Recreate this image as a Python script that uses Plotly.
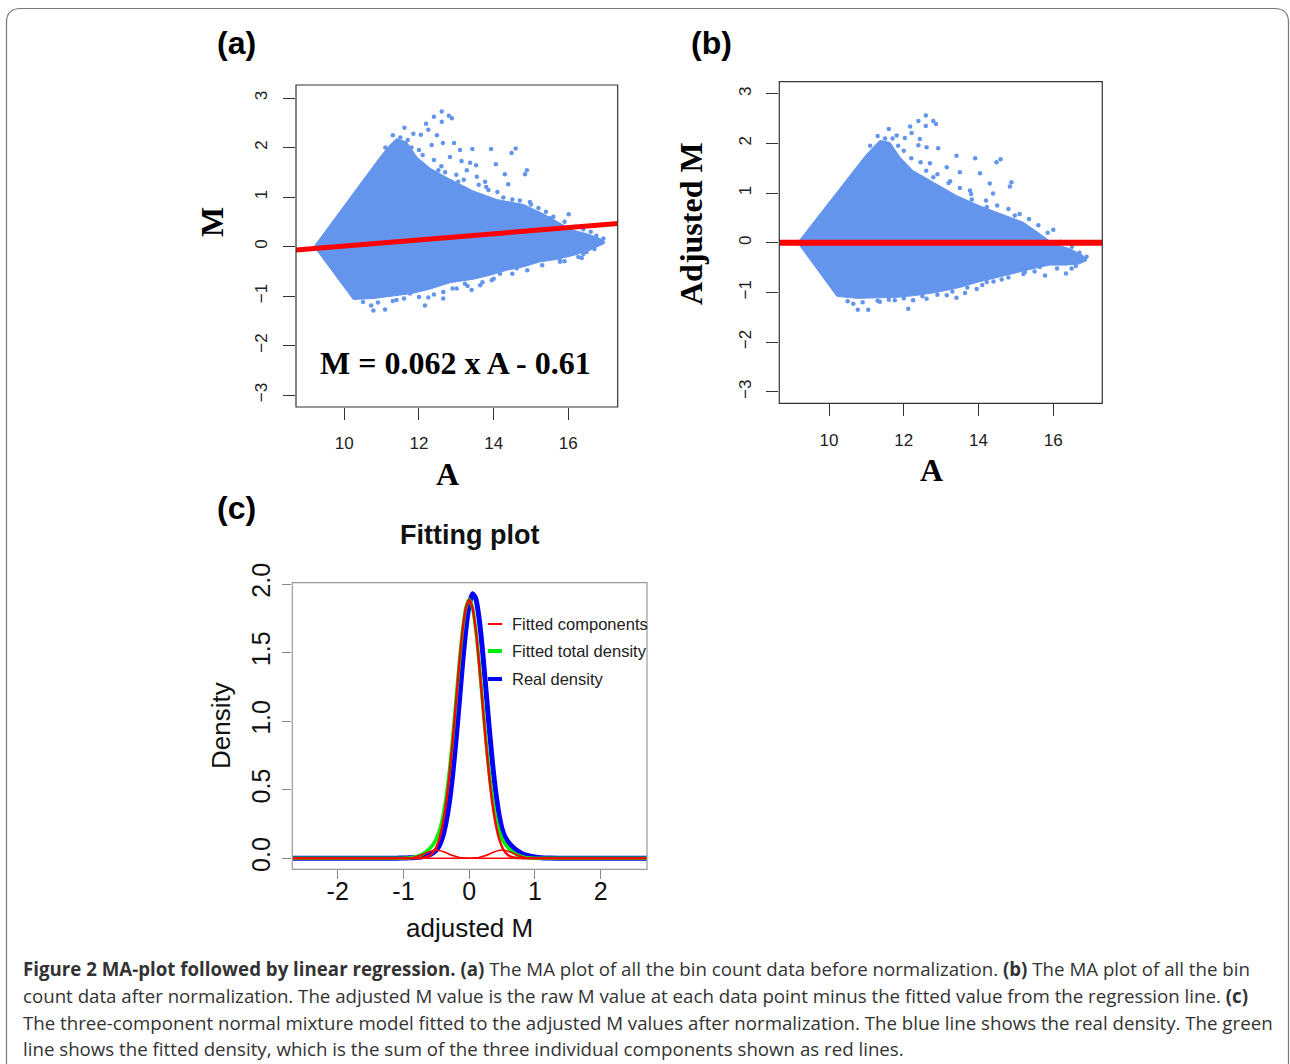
import plotly.graph_objects as go

W, H = 1290, 1064

# ---------------- Panel (a): MA plot before normalization ----------------
cloud_a_x = [9.19, 10.95, 11.22, 11.40, 11.67, 11.94, 12.30, 12.83, 13.46, 14.08, 14.80, 15.33,
             15.78, 16.13, 16.49, 16.85, 16.98, 16.96, 16.58, 16.13, 15.69, 15.24, 14.80, 14.35,
             13.90, 13.46, 12.83, 12.30, 11.80, 11.22, 10.78, 10.24, 9.19]
cloud_a_y = [0.00, 1.80, 2.05, 2.18, 2.11, 1.81, 1.58, 1.36, 1.12, 0.95, 0.85, 0.66,
             0.47, 0.33, 0.26, 0.16, 0.09, 0.06, -0.075, -0.18, -0.26, -0.31, -0.41, -0.48,
             -0.58, -0.66, -0.73, -0.86, -0.95, -1.01, -1.05, -1.07, 0.00]
out_a_x = [12.61, 12.80, 12.88, 12.61, 12.40, 12.19, 11.61, 11.85, 12.05, 12.25, 12.48, 12.64,
           12.94, 13.43, 13.93, 14.48, 14.59, 13.10, 12.83, 13.14, 13.37, 13.53, 14.06, 14.89,
           14.84, 14.30, 13.77, 14.39, 13.86, 14.26, 14.97, 14.57, 16.01, 15.51, 13.28, 13.55,
           13.05, 12.52, 12.34,
           11.10, 11.30, 11.50, 11.70, 11.80, 12.00, 12.10, 12.40, 12.60, 12.70, 13.00, 13.20,
           13.60, 13.80, 14.10, 14.50, 14.70, 15.00, 15.20, 15.40, 15.60, 15.90, 16.20, 16.40,
           16.60, 16.75,
           10.78, 11.09, 10.72, 12.16, 11.40, 12.25, 12.65, 13.01, 13.41, 13.64, 13.95, 14.17,
           14.62, 15.24, 15.78, 16.36, 16.49, 16.67, 16.94, 16.90, 16.58, 16.13, 15.60, 13.23,
           11.76, 11.89, 12.65, 16.27, 15.78,
           10.50, 10.90, 11.30, 11.60, 12.00, 12.40, 12.90, 13.30, 13.70, 14.00, 14.50, 14.90,
           15.30, 15.90, 16.40, 16.70]
out_a_y = [2.73, 2.64, 2.59, 2.52, 2.62, 2.48, 2.40, 2.28, 2.26, 2.36, 2.25, 2.09,
           2.09, 1.97, 1.97, 1.89, 1.98, 1.95, 1.81, 1.73, 1.69, 1.64, 1.66, 1.54,
           1.46, 1.46, 1.31, 1.26, 1.14, 0.99, 0.90, 0.81, 0.65, 0.57, 1.54, 1.41,
           1.31, 1.54, 2.05,
           2.00, 2.25, 2.20, 2.15, 2.00, 1.95, 1.85, 1.75, 1.62, 1.50, 1.45, 1.35,
           1.25, 1.20, 1.10, 0.95, 0.93, 0.85, 0.78, 0.70, 0.60, 0.50, 0.40, 0.35,
           0.30, 0.22,
           -1.29, -1.27, -1.19, -1.19, -1.08, -1.03, -0.92, -0.85, -0.88, -0.78, -0.68, -0.55,
           -0.44, -0.24, -0.31, -0.23, -0.11, -0.01, 0.16, 0.09, 0.13, 0.13, -0.14, -0.75,
           -0.95, -0.88, -1.05, -0.21, -0.29,
           -1.12, -1.13, -1.10, -1.05, -1.02, -0.97, -0.85, -0.80, -0.72, -0.65, -0.55, -0.48,
           -0.38, -0.30, -0.15, -0.05]
fit_slope = 0.062
fit_intercept = -0.61
fit_a_x = [8.4, 17.6]
fit_a_y = [fit_slope * v + fit_intercept for v in fit_a_x]

# ---------------- Panel (b): MA plot after normalization ----------------
cloud_b_x = [9.16, 10.96, 11.18, 11.36, 11.63, 11.90, 12.25, 12.79, 13.41, 14.04, 14.66, 15.20,
             15.64, 16.00, 16.44, 16.80, 16.89, 16.71, 16.36, 15.91, 15.64, 15.02, 14.57, 13.95,
             13.50, 12.88, 12.34, 11.81, 11.28, 10.74, 10.21, 9.16]
cloud_b_y = [0.00, 1.74, 1.92, 2.06, 2.02, 1.72, 1.45, 1.22, 0.95, 0.74, 0.56, 0.41,
             0.18, -0.02, -0.12, -0.26, -0.36, -0.42, -0.45, -0.45, -0.49, -0.60, -0.68, -0.80,
             -0.90, -1.00, -1.06, -1.10, -1.11, -1.12, -1.08, 0.00]
out_b_x = [12.59, 12.79, 12.86, 12.59, 12.39, 12.17, 11.60, 12.21, 11.81, 12.03, 12.43, 12.61,
           12.92, 13.41, 13.91, 14.48, 14.59, 13.50, 13.15, 14.04, 14.88, 14.84, 14.30, 13.77,
           14.39, 13.82, 14.22, 14.97, 16.00, 15.46, 13.24, 12.79, 12.70, 12.39,
           11.10, 11.30, 11.50, 11.70, 11.85, 12.00, 12.20, 12.45, 12.60, 12.90, 13.20, 13.50,
           13.80, 14.20, 14.50, 14.80, 15.10, 15.35, 15.60, 15.85, 16.20, 16.50, 16.70,
           10.77, 11.05, 10.65, 12.12, 11.36, 12.25, 12.61, 13.15, 13.41, 13.64, 13.95, 14.22,
           14.62, 15.24, 15.78, 16.34, 16.49, 16.62, 16.89, 16.84, 16.58, 16.13, 15.64, 11.76,
           10.50, 10.90, 11.30, 11.60, 12.00, 12.50, 12.90, 13.30, 13.70, 14.10, 14.40, 14.80,
           15.20, 15.50, 16.10, 16.60]
out_b_y = [2.56, 2.45, 2.39, 2.35, 2.45, 2.34, 2.29, 2.21, 2.16, 2.11, 2.09, 1.92,
           1.90, 1.75, 1.70, 1.62, 1.68, 1.42, 1.52, 1.40, 1.22, 1.13, 1.19, 1.05,
           0.99, 0.87, 0.72, 0.55, 0.26, 0.21, 1.24, 1.32, 1.60, 1.96,
           1.95, 2.15, 2.10, 2.10, 1.95, 1.85, 1.70, 1.62, 1.45, 1.38, 1.20, 1.10,
           0.98, 0.85, 0.75, 0.68, 0.58, 0.48, 0.35, 0.20, 0.02, -0.08, -0.20,
           -1.35, -1.35, -1.23, -1.33, -1.19, -1.16, -1.13, -1.06, -1.11, -1.01, -0.93, -0.79,
           -0.74, -0.59, -0.66, -0.62, -0.52, -0.42, -0.28, -0.34, -0.26, -0.22, -0.49, -1.16,
           -1.18, -1.20, -1.17, -1.15, -1.12, -1.08, -1.05, -0.98, -0.90, -0.85, -0.78, -0.70,
           -0.63, -0.58, -0.52, -0.47]
adj_line_x = [8.4, 17.6]
adj_line_y = [0.0, 0.0]

# ---------------- Panel (c): fitting plot ----------------
dens_x = [-2.8, -2.0, -1.5, -1.2, -1.1, -1.0, -0.95, -0.9, -0.85, -0.8, -0.75, -0.7, -0.65,
          -0.6, -0.55, -0.5, -0.45, -0.4, -0.35, -0.3, -0.25, -0.2, -0.15, -0.1, -0.05, 0.0,
          0.05, 0.1, 0.15, 0.2, 0.25, 0.3, 0.35, 0.4, 0.45, 0.5, 0.55, 0.6, 0.65, 0.7, 0.75,
          0.8, 0.85, 0.9, 0.95, 1.0, 1.1, 1.2, 1.5, 2.0, 2.8]
real_density = [0.0, 0.0, 0.0, 0.0, 0.001, 0.002, 0.003, 0.004, 0.005, 0.007, 0.009, 0.013, 0.018,
                0.027, 0.040, 0.060, 0.097, 0.162, 0.266, 0.413, 0.615, 0.864, 1.142, 1.423, 1.671, 1.849,
                1.929, 1.893, 1.753, 1.528, 1.256, 0.975, 0.715, 0.497, 0.330, 0.215, 0.150, 0.115, 0.088,
                0.066, 0.049, 0.036, 0.026, 0.019, 0.013, 0.009, 0.004, 0.002, 0.0, 0.0, 0.0]
fitted_total = [0.0, 0.0, 0.0, 0.0, 0.0, 0.001, 0.002, 0.004, 0.007, 0.014, 0.022, 0.034, 0.051,
                0.071, 0.100, 0.143, 0.207, 0.305, 0.449, 0.642, 0.883, 1.156, 1.430, 1.668, 1.829, 1.887,
                1.829, 1.668, 1.430, 1.156, 0.883, 0.642, 0.449, 0.305, 0.207, 0.143, 0.100, 0.071, 0.051,
                0.034, 0.022, 0.014, 0.007, 0.004, 0.002, 0.001, 0.0, 0.0, 0.0, 0.0, 0.0]
comp_main = [0.0, 0.0, 0.0, 0.0, 0.0, 0.0, 0.0, 0.0, 0.0, 0.001, 0.002, 0.004, 0.010,
             0.021, 0.043, 0.083, 0.150, 0.255, 0.408, 0.612, 0.863, 1.143, 1.423, 1.664, 1.827, 1.885,
             1.827, 1.664, 1.423, 1.143, 0.863, 0.612, 0.408, 0.255, 0.150, 0.083, 0.043, 0.021, 0.010,
             0.004, 0.002, 0.001, 0.0, 0.0, 0.0, 0.0, 0.0, 0.0, 0.0, 0.0, 0.0]
comp_left = [0.0, 0.0, 0.0, 0.0, 0.0, 0.001, 0.002, 0.004, 0.007, 0.013, 0.020, 0.030, 0.041,
             0.050, 0.057, 0.060, 0.057, 0.050, 0.041, 0.030, 0.020, 0.013, 0.007, 0.004, 0.002, 0.001,
             0.0, 0.0, 0.0, 0.0, 0.0, 0.0, 0.0, 0.0, 0.0, 0.0, 0.0, 0.0, 0.0,
             0.0, 0.0, 0.0, 0.0, 0.0, 0.0, 0.0, 0.0, 0.0, 0.0, 0.0, 0.0]
comp_right = [0.0, 0.0, 0.0, 0.0, 0.0, 0.0, 0.0, 0.0, 0.0, 0.0, 0.0, 0.0, 0.0,
              0.0, 0.0, 0.0, 0.0, 0.0, 0.0, 0.0, 0.0, 0.0, 0.0, 0.0, 0.0, 0.001,
              0.002, 0.004, 0.007, 0.013, 0.020, 0.030, 0.041, 0.050, 0.057, 0.060, 0.057, 0.050, 0.041,
              0.030, 0.020, 0.013, 0.007, 0.004, 0.002, 0.001, 0.0, 0.0, 0.0, 0.0, 0.0]

a_ticks = [10, 12, 14, 16]
m_ticks = [-3, -2, -1, 0, 1, 2, 3]
m_tick_text = ["\u22123", "\u22122", "\u22121", "0", "1", "2", "3"]
c_xticks = [-2, -1, 0, 1, 2]
c_xtext = ["-2", "-1", "0", "1", "2"]
c_yticks = [0.0, 0.5, 1.0, 1.5, 2.0]
c_ytext = ["0.0", "0.5", "1.0", "1.5", "2.0"]

legend_labels = ["Fitted components", "Fitted total density", "Real density"]

caption_lines = [
    "<b>Figure 2 MA-plot followed by linear regression.</b> <b>(a)</b> The MA plot of all the bin count data before normalization. <b>(b)</b> The MA plot of all the bin",
    "count data after normalization. The adjusted M value is the raw M value at each data point minus the fitted value from the regression line. <b>(c)</b>",
    "The three-component normal mixture model fitted to the adjusted M values after normalization. The blue line shows the real density. The green",
    "line shows the fitted density, which is the sum of the three individual components shown as red lines.",
]

# ---------------- styles ----------------
CLOUD = "#6495ED"
SERIF = "Liberation Serif"
SANS = "Liberation Sans"


def px(x):
    return x / W


def py(y):
    return 1 - y / H


fig = go.Figure()

# Panel (a)
fig.add_trace(go.Scatter(x=cloud_a_x, y=cloud_a_y, mode="lines", fill="toself",
                         fillcolor=CLOUD, line=dict(color=CLOUD, width=1),
                         xaxis="x", yaxis="y", hoverinfo="skip", showlegend=False))
fig.add_trace(go.Scatter(x=out_a_x, y=out_a_y, mode="markers",
                         marker=dict(color=CLOUD, size=4.5, line=dict(width=0)),
                         xaxis="x", yaxis="y", showlegend=False))
fig.add_trace(go.Scatter(x=fit_a_x, y=fit_a_y, mode="lines",
                         line=dict(color="#FF0000", width=5),
                         xaxis="x", yaxis="y", showlegend=False))

# Panel (b)
fig.add_trace(go.Scatter(x=cloud_b_x, y=cloud_b_y, mode="lines", fill="toself",
                         fillcolor=CLOUD, line=dict(color=CLOUD, width=1),
                         xaxis="x2", yaxis="y2", hoverinfo="skip", showlegend=False))
fig.add_trace(go.Scatter(x=out_b_x, y=out_b_y, mode="markers",
                         marker=dict(color=CLOUD, size=4.5, line=dict(width=0)),
                         xaxis="x2", yaxis="y2", showlegend=False))
fig.add_trace(go.Scatter(x=adj_line_x, y=adj_line_y, mode="lines",
                         line=dict(color="#FF0000", width=6),
                         xaxis="x2", yaxis="y2", showlegend=False))

# Panel (c)
fig.add_trace(go.Scatter(x=dens_x, y=real_density, mode="lines", name="Real density",
                         line=dict(color="#0000FF", width=5, shape="spline", smoothing=0.6),
                         xaxis="x3", yaxis="y3", showlegend=False))
fig.add_trace(go.Scatter(x=dens_x, y=fitted_total, mode="lines", name="Fitted total density",
                         line=dict(color="#00EE00", width=3.5, shape="spline", smoothing=0.6),
                         xaxis="x3", yaxis="y3", showlegend=False))
for comp, wdt in ((comp_main, 2.4), (comp_left, 1.5), (comp_right, 1.5)):
    fig.add_trace(go.Scatter(x=dens_x, y=comp, mode="lines", name="Fitted components",
                             line=dict(color="#FF0000", width=wdt, shape="spline", smoothing=0.6),
                             xaxis="x3", yaxis="y3", showlegend=False))

ab_tick = dict(ticks="outside", ticklen=12, tickwidth=1, tickcolor="#333",
               showgrid=False, zeroline=False, showline=False, automargin=False,
               tickfont=dict(family=SANS, size=17, color="#222"), ticklabelstandoff=9)
c_tick = dict(ticks="outside", ticklen=9, tickwidth=1, tickcolor="#888",
              showgrid=False, zeroline=False, showline=False, automargin=False,
              tickfont=dict(family=SANS, size=25, color="#111"))

fig.update_layout(
    width=W, height=H, autosize=False,
    margin=dict(l=0, r=0, t=0, b=0, pad=0, autoexpand=False),
    paper_bgcolor="white", plot_bgcolor="white", showlegend=False,
    xaxis=dict(domain=[px(296), px(617.7)], range=[8.706, 17.323], anchor="y",
               tickvals=a_ticks, **ab_tick),
    yaxis=dict(domain=[py(407), py(85)], range=[-3.242, 3.263], anchor="x",
               tickvals=m_ticks, ticktext=m_tick_text, tickangle=-90, **ab_tick),
    xaxis2=dict(domain=[px(779.3), px(1102.3)], range=[8.670, 17.311], anchor="y2",
                tickvals=a_ticks, **ab_tick),
    yaxis2=dict(domain=[py(403.3), py(81.7)], range=[-3.233, 3.242], anchor="x2",
                tickvals=m_ticks, ticktext=m_tick_text, tickangle=-90, **ab_tick),
    xaxis3=dict(domain=[px(292.3), px(647)], range=[-2.690, 2.704], anchor="y3",
                tickvals=c_xticks, ticktext=c_xtext, ticklabelstandoff=-9, **c_tick),
    yaxis3=dict(domain=[py(869.3), py(582.7)], range=[-0.080, 2.0095], anchor="x3",
                tickvals=c_yticks, ticktext=c_ytext, tickangle=-90, ticklabelstandoff=2, **c_tick),
)

shapes = []
for xa, ya, col in (("x", "y", "#333"), ("x2", "y2", "#333"), ("x3", "y3", "#999")):
    shapes.append(dict(type="rect", xref=f"{xa} domain", yref=f"{ya} domain",
                       x0=0, x1=1, y0=0, y1=1, line=dict(color=col, width=1.2), layer="above"))

# outer rounded frame
L, T, R, B, r = 6.5, 8.5, 1288.5, 1070, 14
frame = (f"M {px(L)},{py(B)} L {px(L)},{py(T + r)} Q {px(L)},{py(T)} {px(L + r)},{py(T)} "
         f"L {px(R - r)},{py(T)} Q {px(R)},{py(T)} {px(R)},{py(T + r)} L {px(R)},{py(B)}")
shapes.append(dict(type="path", xref="paper", yref="paper", path=frame,
                   line=dict(color="#777", width=1.2)))

# manual legend for panel (c)
leg_colors = ["#FF0000", "#00EE00", "#0000FF"]
leg_widths = [2, 4, 4]
leg_rows = [624, 651, 679]
for colr, lw, yy in zip(leg_colors, leg_widths, leg_rows):
    shapes.append(dict(type="line", xref="paper", yref="paper",
                       x0=px(488), x1=px(502), y0=py(yy), y1=py(yy),
                       line=dict(color=colr, width=lw)))
fig.update_layout(shapes=shapes)

ann = []
for lab, yy in zip(legend_labels, leg_rows):
    ann.append(dict(text=lab, xref="paper", yref="paper", x=px(510), y=py(yy),
                    xanchor="left", yanchor="middle", showarrow=False,
                    font=dict(family=SANS, size=16.5, color="#222")))

# panel letters
for lab, xx, yy in (("(a)", 236, 43), ("(b)", 711, 43), ("(c)", 236, 508)):
    ann.append(dict(text=f"<b>{lab}</b>", xref="paper", yref="paper", x=px(xx), y=py(yy),
                    xanchor="center", yanchor="middle", showarrow=False,
                    font=dict(family=SANS, size=32, color="black")))

# axis titles
ann += [
    dict(text="<b>M</b>", xref="paper", yref="paper", x=px(212), y=py(222), textangle=-90,
         xanchor="center", yanchor="middle", showarrow=False, font=dict(family=SERIF, size=32, color="black")),
    dict(text="<b>A</b>", xref="paper", yref="paper", x=px(447), y=py(474),
         xanchor="center", yanchor="middle", showarrow=False, font=dict(family=SERIF, size=32, color="black")),
    dict(text="<b>Adjusted M</b>", xref="paper", yref="paper", x=px(691), y=py(224), textangle=-90,
         xanchor="center", yanchor="middle", showarrow=False, font=dict(family=SERIF, size=32, color="black")),
    dict(text="<b>A</b>", xref="paper", yref="paper", x=px(931), y=py(470),
         xanchor="center", yanchor="middle", showarrow=False, font=dict(family=SERIF, size=32, color="black")),
    dict(text="<b>M = 0.062 x A - 0.61</b>", xref="x", yref="y", x=12.98, y=-2.36,
         xanchor="center", yanchor="middle", showarrow=False, font=dict(family=SERIF, size=32, color="black")),
    dict(text="<b>Fitting plot</b>", xref="paper", yref="paper", x=px(469.5), y=py(535),
         xanchor="center", yanchor="middle", showarrow=False, font=dict(family=SANS, size=27, color="#111")),
    dict(text="Density", xref="paper", yref="paper", x=px(221), y=py(726), textangle=-90,
         xanchor="center", yanchor="middle", showarrow=False, font=dict(family=SANS, size=26, color="#111")),
    dict(text="adjusted M", xref="paper", yref="paper", x=px(469.5), y=py(928),
         xanchor="center", yanchor="middle", showarrow=False, font=dict(family=SANS, size=26, color="#111")),
]

for line, yy in zip(caption_lines, [968, 995, 1022, 1048]):
    ann.append(dict(text=line, xref="paper", yref="paper", x=px(21), y=py(yy),
                    xanchor="left", yanchor="middle", showarrow=False, align="left",
                    font=dict(family="Open Sans", size=18.7, color="#333")))

fig.update_layout(annotations=ann)

fig.write_html("out.html", config={"displayModeBar": False},
               post_script="document.body.style.margin='0';")
